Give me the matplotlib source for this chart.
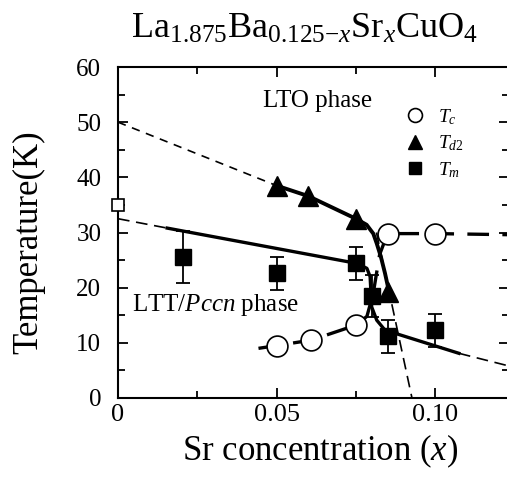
import matplotlib
matplotlib.use("Agg")
import matplotlib.pyplot as plt
from matplotlib.lines import Line2D

plt.rcParams['font.family'] = ['Liberation Serif', 'DejaVu Serif']
plt.rcParams['mathtext.fontset'] = 'custom'
plt.rcParams['mathtext.rm'] = 'Liberation Serif'
plt.rcParams['mathtext.it'] = 'Liberation Serif:italic'

# measured points
tc_x = [0.05, 0.061, 0.075, 0.085, 0.10]
tc_y = [9.5, 10.5, 13.2, 29.8, 29.8]

td2_x = [0.05, 0.06, 0.075, 0.085]
td2_y = [38.5, 36.6, 32.5, 19.2]

tm_x = [0.0205, 0.05, 0.075, 0.080, 0.085, 0.10]
tm_y = [25.6, 22.6, 24.4, 18.5, 11.2, 12.3]
tm_err = [4.7, 3.0, 3.0, 3.8, 3.0, 3.0]

x0_x = [0.0]
x0_y = [35.0]

# guide lines
td2_solid_x = [0.05, 0.06, 0.075, 0.0784, 0.0805, 0.0816, 0.0829, 0.0842, 0.0855]
td2_solid_y = [38.5, 36.6, 32.5, 31.4, 29.8, 28.0, 25.6, 22.6, 19.2]
td2_dash_x = [0.0, 0.05]
td2_dash_y = [50.0, 38.5]
td2_steep_x = [0.0815, 0.0927]
td2_steep_y = [30.0, 0.0]

tm_solid_x = [0.0155, 0.0753, 0.0785, 0.0795, 0.0800, 0.0816, 0.0842, 0.1075]
tm_solid_y = [30.8, 24.4, 23.5, 22.0, 16.5, 14.1, 12.3, 8.1]
tm_dash_left_x = [0.0, 0.0155]
tm_dash_left_y = [32.5, 30.8]
tm_dash_right_x = [0.1075, 0.1233]
tm_dash_right_y = [8.1, 5.8]

tc_line_x = [0.0443, 0.05, 0.061, 0.075, 0.0785, 0.0805, 0.0825, 0.085, 0.10, 0.1233]
tc_line_y = [9.0, 9.5, 10.5, 13.2, 14.8, 19.0, 26.0, 29.8, 29.8, 29.6]

fig = plt.figure(figsize=(5.07, 4.84), dpi=100)
ax = fig.add_axes([118/507, 1-398/484, 391/507, 331/484])

# guide lines
ax.plot(td2_dash_x, td2_dash_y, color='black', lw=1.2, ls=(0, (5, 4)))
ax.plot(td2_solid_x, td2_solid_y, color='black', lw=2.8)
ax.plot(td2_steep_x, td2_steep_y, color='black', lw=1.2, ls=(0, (7, 4)))
ax.plot(tm_dash_left_x, tm_dash_left_y, color='black', lw=1.2, ls=(0, (7, 4)))
ax.plot(tm_solid_x, tm_solid_y, color='black', lw=2.4)
ax.plot(tm_dash_right_x, tm_dash_right_y, color='black', lw=1.2, ls=(0, (7, 4)))
ax.plot(tc_line_x, tc_line_y, color='black', lw=2.4, ls=(0, (6.5, 4)))

# data markers
ax.errorbar(tm_x, tm_y, yerr=tm_err, fmt='s', color='black', ms=11,
            elinewidth=1.3, capsize=5, capthick=1.3, zorder=5)
ax.plot(td2_x, td2_y, '^', color='black', ms=14, zorder=5)
ax.plot(tc_x, tc_y, 'o', mfc='white', mec='black', mew=1.2, ms=15, zorder=6)
ax.plot(x0_x, x0_y, 's', mfc='white', mec='black', mew=1.2, ms=9,
        clip_on=False, zorder=7)

ax.set_xlim(0, 0.1233)
ax.set_ylim(0, 60)
ax.set_xticks([0, 0.05, 0.10])
ax.set_xticklabels(['0', '0.05', '0.10'])
ax.set_xticks([0.025, 0.075], minor=True)
ax.set_yticks([0, 10, 20, 30, 40, 50, 60])
ax.set_yticks([5, 15, 25, 35, 45, 55], minor=True)
ax.tick_params(which='both', direction='in', top=True, right=True, width=1.3)
ax.tick_params(which='major', length=7)
ax.tick_params(which='minor', length=5)
ax.tick_params(axis='x', labelsize=19, pad=4)
ax.tick_params(axis='y', labelsize=18, pad=12)
for s in ax.spines.values():
    s.set_linewidth(1.5)

ax.text(0.063, 53.8, 'LTO phase', fontsize=18, ha='center', va='center')
ax.text(0.0043, 16.9, 'LTT/$Pccn$ phase', fontsize=18, ha='left', va='center')

handles = [
    Line2D([], [], ls='none', marker='o', mfc='white', mec='black', mew=1.2, ms=10),
    Line2D([], [], ls='none', marker='^', color='black', ms=10),
    Line2D([], [], ls='none', marker='s', color='black', ms=8),
]
ax.legend(handles, ['$T_c$', '$T_{d2}$', '$T_m$'], loc='upper left',
          bbox_to_anchor=(0.71, 0.908), frameon=False, fontsize=14,
          handlelength=1.0, handletextpad=0.7, labelspacing=0.35, borderpad=0)

ax.set_xlabel('Sr concentration ($x$)', fontsize=25)
ax.xaxis.set_label_coords(0.517, -0.105)
ax.set_ylabel('Temperature(K)', fontsize=25)
ax.yaxis.set_label_coords(-0.185, 0.47)

fig.text(0.6, 0.94, r'La$_{1.875}$Ba$_{0.125\mathrm{-}x}$Sr$_x$CuO$_4$',
         fontsize=26, ha='center', va='center')

fig.savefig('out.png', dpi=100)
